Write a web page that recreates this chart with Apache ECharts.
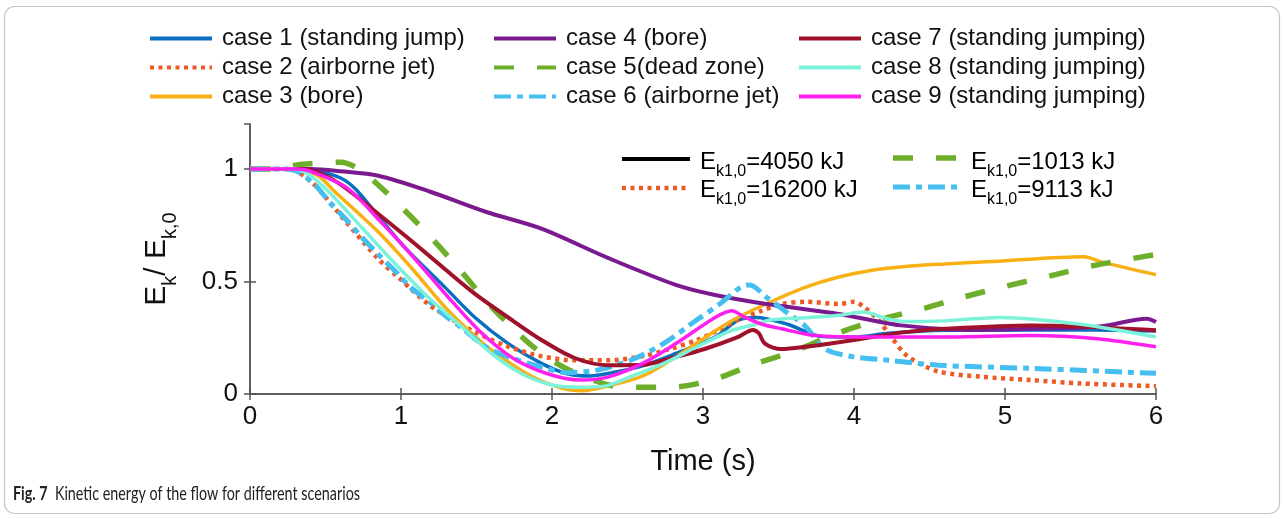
<!DOCTYPE html>
<html><head><meta charset="utf-8">
<script src="https://cdn.jsdelivr.net/npm/echarts@6/dist/echarts.min.js"></script>
<style>html,body{margin:0;padding:0;background:#fff}#c{width:1284px;height:519px}</style>
</head><body><div id="c"></div>
<script>
// ---------- DATA ----------
const caseNames = [
  'case 1 (standing jump)', 'case 2 (airborne jet)', 'case 3 (bore)',
  'case 4 (bore)', 'case 5(dead zone)', 'case 6 (airborne jet)',
  'case 7 (standing jumping)', 'case 8 (standing jumping)', 'case 9 (standing jumping)'
];
const xTicks = [0, 1, 2, 3, 4, 5, 6];
const yTicks = [0, 0.5, 1];
const yMax = 1.2;

const case1 = [[0,1],[0.3,1],[0.45,0.99],[0.6,0.96],[0.7,0.91],[0.85,0.79],[1.0,0.67],[1.07,0.62],[1.29,0.475],[1.49,0.34],[1.71,0.224],[1.93,0.136],[2.1,0.09],[2.25,0.08],[2.4,0.095],[2.6,0.125],[2.82,0.18],[3.08,0.253],[3.23,0.327],[3.35,0.34],[3.56,0.31],[3.79,0.255],[4.0,0.253],[4.23,0.27],[4.6,0.283],[5.17,0.285],[5.6,0.285],[6,0.28]];
const case2 = [[0,1],[0.25,1],[0.41,0.94],[0.63,0.77],[0.85,0.6],[0.98,0.52],[1.18,0.4],[1.33,0.335],[1.49,0.275],[1.71,0.21],[1.93,0.168],[2.15,0.15],[2.37,0.15],[2.6,0.168],[2.78,0.2],[2.96,0.24],[3.09,0.28],[3.23,0.33],[3.39,0.37],[3.52,0.4],[3.68,0.41],[3.9,0.4],[4.0,0.41],[4.07,0.385],[4.16,0.33],[4.25,0.25],[4.36,0.165],[4.56,0.1],[4.84,0.077],[5.17,0.062],[5.5,0.047],[6,0.035]];
const case3 = [[0,1],[0.3,1],[0.45,0.97],[0.56,0.9],[0.85,0.72],[1.07,0.56],[1.3,0.38],[1.5,0.25],[1.63,0.18],[1.86,0.08],[2.07,0.025],[2.2,0.015],[2.37,0.035],[2.6,0.08],[2.82,0.165],[3.08,0.28],[3.23,0.34],[3.45,0.41],[3.68,0.475],[3.9,0.52],[4.12,0.55],[4.34,0.567],[4.6,0.578],[4.95,0.59],[5.52,0.61],[5.65,0.585],[6,0.53]];
const case4 = [[0,1],[0.4,1],[0.6,0.99],[0.85,0.97],[1.19,0.9],[1.56,0.81],[1.93,0.735],[2.37,0.605],[2.82,0.485],[3.08,0.44],[3.42,0.4],[3.86,0.36],[4.1,0.33],[4.31,0.305],[4.75,0.285],[5.2,0.29],[5.63,0.3],[5.94,0.335],[6,0.32]];
const case5 = [[0,1],[0.15,1],[0.33,1.02],[0.6,1.03],[0.72,1.0],[0.88,0.91],[1.15,0.73],[1.38,0.56],[1.61,0.38],[1.93,0.18],[2.2,0.08],[2.48,0.03],[2.78,0.03],[3.05,0.06],[3.33,0.13],[3.62,0.195],[3.89,0.27],[4.17,0.33],[4.46,0.38],[4.72,0.43],[5.01,0.48],[5.3,0.525],[5.58,0.57],[5.87,0.605],[6,0.62]];
const case6 = [[0,1],[0.2,1],[0.31,0.99],[0.43,0.93],[0.53,0.85],[0.63,0.78],[0.75,0.69],[0.85,0.62],[0.97,0.54],[1.07,0.47],[1.19,0.41],[1.29,0.35],[1.41,0.29],[1.56,0.21],[1.71,0.165],[1.93,0.12],[2.1,0.095],[2.3,0.106],[2.52,0.15],[2.74,0.225],[2.96,0.33],[3.11,0.4],[3.25,0.475],[3.31,0.485],[3.42,0.43],[3.54,0.37],[3.68,0.3],[3.81,0.2],[4.0,0.165],[4.23,0.15],[4.56,0.128],[5.17,0.114],[6,0.092]];
const case7 = [[0,1],[0.35,1],[0.5,0.97],[0.63,0.917],[0.85,0.8],[1.07,0.68],[1.3,0.55],[1.49,0.445],[1.71,0.34],[1.93,0.24],[2.15,0.16],[2.37,0.128],[2.6,0.13],[2.82,0.165],[3.01,0.2],[3.23,0.253],[3.33,0.285],[3.37,0.27],[3.41,0.224],[3.52,0.2],[3.68,0.21],[3.9,0.23],[4.12,0.253],[4.34,0.275],[4.6,0.29],[5.17,0.305],[5.5,0.3],[6,0.283]];
const case8 = [[0,1],[0.3,1],[0.4,0.97],[0.52,0.9],[0.74,0.74],[0.96,0.58],[1.18,0.43],[1.4,0.3],[1.6,0.18],[1.8,0.09],[2.0,0.04],[2.2,0.03],[2.35,0.035],[2.52,0.077],[2.74,0.136],[2.96,0.21],[3.18,0.28],[3.35,0.31],[3.45,0.33],[3.7,0.34],[3.9,0.35],[4.06,0.364],[4.22,0.335],[4.34,0.322],[4.6,0.325],[4.97,0.34],[5.5,0.31],[6,0.253]];
const case9 = [[0,1],[0.3,1],[0.4,0.99],[0.64,0.917],[0.86,0.77],[1.08,0.61],[1.3,0.44],[1.52,0.28],[1.74,0.16],[1.97,0.09],[2.19,0.062],[2.37,0.075],[2.6,0.136],[2.82,0.224],[3.08,0.34],[3.19,0.37],[3.28,0.34],[3.39,0.31],[3.52,0.29],[3.74,0.26],[4.12,0.253],[4.6,0.253],[5.17,0.26],[5.61,0.246],[6,0.21]];
const caseData = [case1, case2, case3, case4, case5, case6, case7, case8, case9];

const energyLabels = ['=4050 kJ', '=16200 kJ', '=1013 kJ', '=9113 kJ'];

// ---------- STYLES ----------
const lineStyles = [
  {color:'#0A6FC0', width:3.5, type:'solid'},
  {color:'#EE5A24', width:4.5, type:[4,4.5]},
  {color:'#F8B015', width:3.5, type:'solid'},
  {color:'#7B1A8E', width:4, type:'solid'},
  {color:'#6DAE2A', width:5.5, type:[20,23]},
  {color:'#45BEF0', width:5, type:[17,6,6,6]},
  {color:'#A0112B', width:4, type:'solid'},
  {color:'#7CF2DA', width:3.5, type:'solid'},
  {color:'#FF20EE', width:3.5, type:'solid'}
];
const FONT = 'Liberation Sans';

const chart = echarts.init(document.getElementById('c'), null, {renderer:'canvas'});

const series = caseNames.map((n, i) => ({
  name: n, type: 'line', data: caseData[i], symbol: 'none', showSymbol: false, smooth: 0.3,
  xAxisIndex: 0, yAxisIndex: 0,
  lineStyle: Object.assign({cap:'butt'}, lineStyles[i]),
  itemStyle: {color: lineStyles[i].color},
  emphasis: {disabled: true}, animation: false
}));

const legendBase = (left, names) => ({
  left: left, top: 26, orient: 'vertical', padding: 0, itemGap: 4,
  itemWidth: 62, itemHeight: 14, data: names, selectedMode: false,
  itemStyle: {opacity: 0},
  lineStyle: {width: 4},
  textStyle: {fontSize: 24, fontFamily: FONT, color: '#111', lineHeight: 25, padding: [0,0,0,5]}
});

const axisLineStyle = {show: true, lineStyle: {color: '#555', width: 1.5}};
const xCommon = {type:'value', min: xTicks[0], max: xTicks[xTicks.length-1], interval: xTicks[1]-xTicks[0], splitLine:{show:false}, axisLine: axisLineStyle, axisTick:{inside:true, length:6, lineStyle:{color:'#555', width:1.5}}};
const yCommon = {type:'value', min: yTicks[0], max: yMax, interval: yTicks[1]-yTicks[0], splitLine:{show:false}, axisLine: axisLineStyle, axisTick:{inside:true, length:6, lineStyle:{color:'#555', width:1.5}}};

const richName = {
  a: {fontSize: 30, lineHeight: 30, fontFamily: FONT, color: '#111', verticalAlign: 'top'},
  b: {fontSize: 20, lineHeight: 20, fontFamily: FONT, color: '#111', verticalAlign: 'top', padding: [18,0,0,0]}
};
const richLeg = {
  a: {fontSize: 24, lineHeight: 24, fontFamily: FONT, color: '#111', verticalAlign: 'top'},
  b: {fontSize: 16, lineHeight: 16, fontFamily: FONT, color: '#111', verticalAlign: 'top', padding: [14,0,0,0]}
};

const option = {
  backgroundColor: '#fff',
  animation: false,
  grid: {left: 250, right: 128, top: 124, bottom: 125, show: false},
  legend: [
    legendBase(148, caseNames.slice(0,3)),
    legendBase(492, caseNames.slice(3,6)),
    legendBase(797, caseNames.slice(6,9))
  ],
  xAxis: [
    Object.assign({}, xCommon, {position:'bottom',
      axisLabel:{fontSize:26, fontFamily:FONT, color:'#111', margin:10},
      name:'Time (s)', nameLocation:'middle', nameGap:53,
      nameTextStyle:{fontSize:29, fontFamily:FONT, color:'#111'}}),
    Object.assign({}, xCommon, {position:'top', axisLabel:{show:false}})
  ],
  yAxis: [
    Object.assign({}, yCommon, {position:'left',
      axisLabel:{fontSize:26, fontFamily:FONT, color:'#111', margin:12, showMaxLabel:false,
        formatter: v => (yTicks.some(t => Math.abs(t - v) < 1e-9) ? String(v) : '')},
      name:'{a|E}{b|k}{a|/ E}{b|k,0}', nameLocation:'middle', nameGap:78, nameRotate:90,
      nameTextStyle:{rich: richName}}),
    Object.assign({}, yCommon, {position:'right', axisLabel:{show:false}})
  ],
  series: series,
  graphic: [
    {type:'rect', silent:true, shape:{x:4.5, y:6.5, width:1275, height:507, r:10}, style:{fill:'none', stroke:'#c4c4c4', lineWidth:1.2}},
    {type:'line', silent:true, shape:{x1:622, y1:159, x2:690, y2:159}, style:{stroke:'#000', lineWidth:4}},
    {type:'line', silent:true, shape:{x1:622, y1:188, x2:690, y2:188}, style:{stroke:lineStyles[1].color, lineWidth:4.5, lineDash:[4,4.5]}},
    {type:'line', silent:true, shape:{x1:893, y1:158, x2:958, y2:158}, style:{stroke:lineStyles[4].color, lineWidth:5.5, lineDash:[20,23]}},
    {type:'line', silent:true, shape:{x1:893, y1:187, x2:958, y2:187}, style:{stroke:lineStyles[5].color, lineWidth:5, lineDash:[17,6,6,6]}},
    {type:'text', silent:true, x:700, y:162, style:{text:'{a|E}{b|k1,0}{a|' + energyLabels[0] + '}', rich:richLeg, verticalAlign:'middle'}},
    {type:'text', silent:true, x:700, y:190, style:{text:'{a|E}{b|k1,0}{a|' + energyLabels[1] + '}', rich:richLeg, verticalAlign:'middle'}},
    {type:'text', silent:true, x:971, y:162, style:{text:'{a|E}{b|k1,0}{a|' + energyLabels[2] + '}', rich:richLeg, verticalAlign:'middle'}},
    {type:'text', silent:true, x:971, y:190, style:{text:'{a|E}{b|k1,0}{a|' + energyLabels[3] + '}', rich:richLeg, verticalAlign:'middle'}},
    {type:'text', silent:true, x:13, y:494, scaleX:0.755, style:{
      text:'{b|Fig. 7}{n|  Kinetic energy of the flow for different scenarios}', verticalAlign:'middle',
      rich:{b:{fontSize:19, fontWeight:'bold', fontFamily:'Lato', fill:'#222'}, n:{fontSize:19, fontFamily:'Lato', fill:'#222'}}}}
  ]
};
chart.setOption(option);
</script></body></html>
